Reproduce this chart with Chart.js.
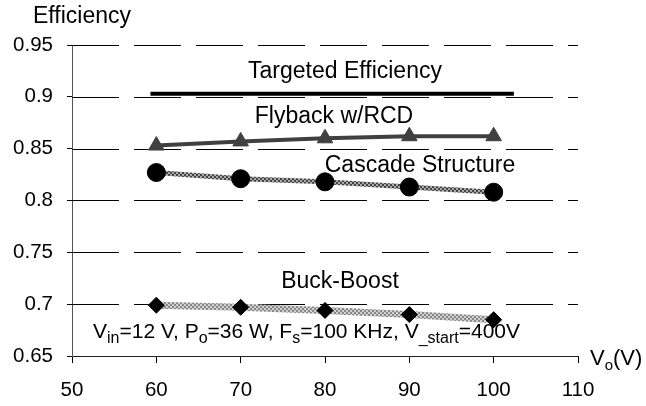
<!DOCTYPE html>
<html><head><meta charset="utf-8">
<script src="https://cdn.jsdelivr.net/npm/chart.js@4/dist/chart.umd.min.js"></script>
<style>html,body{margin:0;padding:0;background:#fff}#wrap{width:646px;height:406px}</style>
</head><body><div id="wrap"><canvas id="c" width="646" height="406"></canvas></div>
<script>
const xValues = [60, 70, 80, 90, 100];
const flyback = [0.853, 0.857, 0.860, 0.862, 0.862];
const cascade = [0.827, 0.821, 0.818, 0.813, 0.808];
const buckBoost = [0.699, 0.697, 0.694, 0.690, 0.685];
const targetX = [59.3, 102.4];
const targetY = [0.903, 0.903];
const xTicks = [50, 60, 70, 80, 90, 100, 110];
const yTicks = [0.65, 0.7, 0.75, 0.8, 0.85, 0.9, 0.95];

const FONT = '"Liberation Sans", Arial, sans-serif';
function pts(xs, ys){ return xs.map((x,i)=>({x:x,y:ys[i]})); }
function makePattern(c1, c2){
  const p = document.createElement('canvas'); p.width=4; p.height=4;
  const g = p.getContext('2d');
  g.fillStyle=c1; g.fillRect(0,0,4,4);
  g.fillStyle=c2; g.fillRect(0,0,2,2); g.fillRect(2,2,2,2);
  return document.getElementById('c').getContext('2d').createPattern(p,'repeat');
}
const cascadePat = makePattern('#444', '#aaa');
const buckPat = makePattern('#888', '#d0d0d0');

const gridPlugin = {
  id:'dashGrid',
  beforeDatasetsDraw(chart){
    const ctx = chart.ctx, ys = chart.scales.y, a = chart.chartArea;
    ctx.save();
    ctx.strokeStyle = '#000'; ctx.lineWidth = 1; ctx.setLineDash([47,15]);
    ys.ticks.forEach(t => {
      if (t.value === yTicks[0]) return;
      const y = Math.round(ys.getPixelForValue(t.value)) + 0.5;
      ctx.beginPath(); ctx.moveTo(a.left, y); ctx.lineTo(a.right, y); ctx.stroke();
    });
    ctx.restore();
  }
};

const textPlugin = {
  id:'texts',
  afterDraw(chart){
    const ctx = chart.ctx;
    ctx.save(); ctx.fillStyle='#000'; ctx.textBaseline='alphabetic';
    ctx.font = '23px '+FONT; ctx.textAlign='left';
    ctx.fillText('Efficiency', 33, 23);
    ctx.textAlign='center';
    ctx.fillText('Targeted Efficiency', 345, 78);
    ctx.fillText('Flyback w/RCD', 334, 123);
    ctx.fillText('Cascade Structure', 420, 172);
    ctx.fillText('Buck-Boost', 340, 288);
    const parts = [['V',0],['in',1],['=12 V, P',0],['o',1],['=36 W, F',0],['s',1],['=100 KHz, V',0],['_start',1],['=400V',0]];
    let x = 93; const yb = 338;
    ctx.textAlign='left';
    for (const [t,sub] of parts){
      ctx.font = (sub? '16px ':'21px ')+FONT;
      ctx.fillText(t, x, sub? yb+5 : yb);
      x += ctx.measureText(t).width;
    }
    ctx.font='22px '+FONT; ctx.fillText('V', 590, 365);
    let w = ctx.measureText('V').width;
    ctx.font='15px '+FONT; ctx.fillText('o', 590+w, 370);
    let w2 = ctx.measureText('o').width;
    ctx.font='22px '+FONT; ctx.fillText('(V)', 590+w+w2, 365);
    ctx.restore();
  }
};

new Chart(document.getElementById('c'), {
  type:'line',
  data:{datasets:[
    {label:'Targeted Efficiency', data:pts(targetX,targetY), borderColor:'#000', borderWidth:4, pointRadius:0, tension:0},
    {label:'Flyback w/RCD', data:pts(xValues,flyback), borderColor:'#404040', borderWidth:4, pointStyle:'triangle', pointRadius:9, pointBackgroundColor:'#404040', pointBorderColor:'#404040', pointBorderWidth:1},
    {label:'Cascade Structure', data:pts(xValues,cascade), borderColor:cascadePat, borderWidth:5, pointStyle:'circle', pointRadius:9, pointBackgroundColor:'#000', pointBorderColor:'#000', pointBorderWidth:1},
    {label:'Buck-Boost', data:pts(xValues,buckBoost), borderColor:buckPat, borderWidth:7, pointStyle:'rectRot', pointRadius:8, pointBackgroundColor:'#000', pointBorderColor:'#000', pointBorderWidth:1}
  ]},
  options:{
    responsive:false, animation:false, events:[],
    layout:{padding:{top:45, right:68, bottom:0, left:0}},
    plugins:{legend:{display:false}, tooltip:{enabled:false}},
    scales:{
      x:{type:'linear', min:50, max:110,
        afterBuildTicks(s){ s.ticks = xTicks.map(v=>({value:v})); },
        afterFit(s){ s.height = 50; },
        border:{color:'#222', width:1},
        grid:{drawOnChartArea:false, drawTicks:true, tickLength:7, color:'#000'},
        ticks:{font:{family:FONT,size:20.5}, color:'#000', padding:15, maxRotation:0}
      },
      y:{type:'linear', min:0.65, max:0.95,
        afterBuildTicks(s){ s.ticks = yTicks.map(v=>({value:v})); },
        afterFit(s){ s.width = 72; },
        border:{color:'#555', width:1},
        grid:{drawOnChartArea:false, lineWidth:1, tickLength:5, color:'#000'},
        ticks:{font:{family:FONT,size:20.5}, color:'#000', padding:14, callback:v=>String(v)}
      }
    }
  },
  plugins:[gridPlugin, textPlugin]
});
</script></body></html>
